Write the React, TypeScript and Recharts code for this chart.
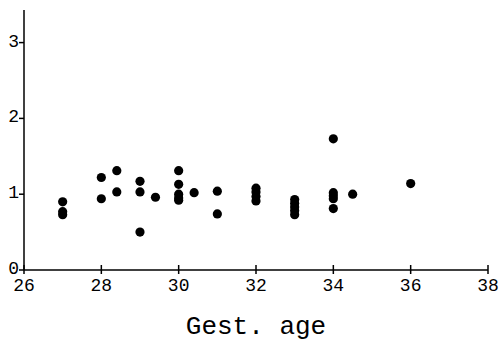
import { ScatterChart, Scatter, XAxis, YAxis } from "recharts";

const gestAge = [
  27, 27, 27,
  28, 28, 28.4, 28.4,
  29, 29, 29, 29.4,
  30, 30, 30, 30, 30, 30.4,
  31, 31,
  32, 32, 32, 32,
  33, 33, 33, 33, 33,
  34, 34, 34, 34, 34, 34.5,
  36,
];
const ratio = [
  0.9, 0.77, 0.73,
  1.22, 0.94, 1.31, 1.03,
  1.17, 1.03, 0.5, 0.96,
  1.31, 1.13, 1.0, 0.95, 0.92, 1.02,
  1.04, 0.74,
  1.08, 1.03, 0.97, 0.91,
  0.93, 0.88, 0.83, 0.78, 0.73,
  1.73, 1.02, 0.98, 0.94, 0.81, 1.0,
  1.14,
];
const xTicks = [26, 28, 30, 32, 34, 36, 38];
const yTicks = [0, 1, 2, 3];

const points = gestAge.map((x, i) => ({ x, y: ratio[i] }));

const FONT = "'Liberation Mono', 'DejaVu Sans Mono', monospace";

function XTick({ x, y, payload }: any) {
  return (
    <g>
      <line x1={x} x2={x} y1={y - 5} y2={y + 4} stroke="#000" strokeWidth={1.5} />
      <text x={x} y={y + 21} textAnchor="middle" fontFamily={FONT} fontSize={18} fill="#000">
        {payload.value}
      </text>
    </g>
  );
}

function YTick({ x, y, payload }: any) {
  return (
    <g>
      <line x1={x - 5} x2={x} y1={y} y2={y} stroke="#000" strokeWidth={1.5} />
      <text x={x - 5} y={y + 4} textAnchor="end" fontFamily={FONT} fontSize={18} fill="#000">
        {payload.value}
      </text>
    </g>
  );
}

const Dot = ({ cx, cy }: any) => <circle cx={cx} cy={cy} r={4.6} fill="#000" />;

export default function App() {
  return (
    <div style={{ position: "absolute", left: 0, top: 0, background: "#fff" }}>
      <ScatterChart width={500} height={343} margin={{ top: 10, right: 12, bottom: 0, left: 0 }}>
        <XAxis
          type="number"
          dataKey="x"
          domain={[26, 38]}
          ticks={xTicks}
          interval={0}
          height={73}
          tickSize={0}
          tickMargin={0}
          tickLine={false}
          tick={<XTick />}
          axisLine={{ stroke: "#000", strokeWidth: 1.5 }}
          label={{
            value: "Gest. age",
            position: "insideBottom",
            offset: 9,
            style: { fontFamily: FONT, fontSize: 26, fill: "#000" },
          }}
        />
        <YAxis
          type="number"
          dataKey="y"
          domain={[0, 3.43]}
          ticks={yTicks}
          interval={0}
          width={24}
          tickSize={0}
          tickMargin={0}
          tickLine={false}
          tick={<YTick />}
          axisLine={{ stroke: "#000", strokeWidth: 1.5 }}
        />
        <Scatter data={points} shape={<Dot />} isAnimationActive={false} />
      </ScatterChart>
    </div>
  );
}
